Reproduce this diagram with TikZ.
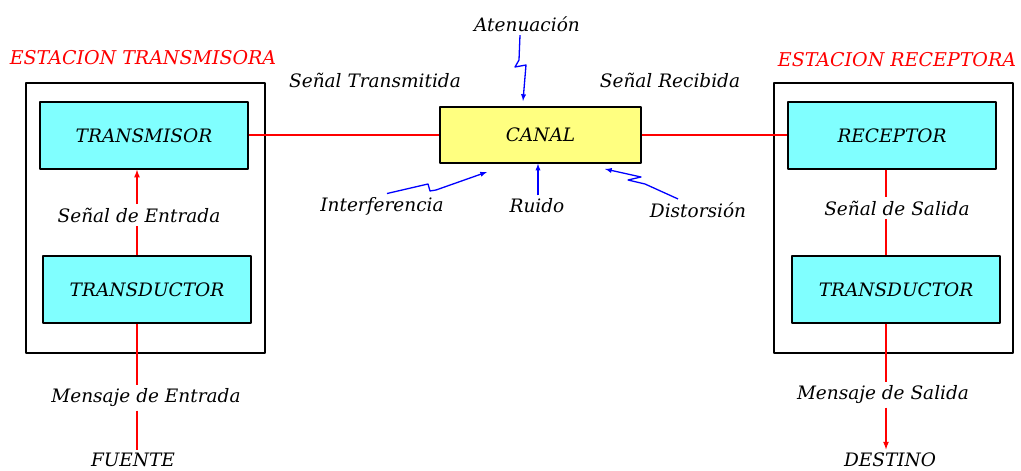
\documentclass[tikz,border=0pt]{standalone}
\usepackage{fontspec}
\setmainfont{DejaVu Serif}
\usetikzlibrary{arrows}
\definecolor{celeste}{RGB}{128,255,255}
\definecolor{amarillo}{RGB}{255,255,128}
\tikzset{t/.style={font=\fontsize{18.5}{18.5}\selectfont\itshape}}
\tikzset{blk/.style={draw,line width=1.4pt,fill=celeste,minimum width=208pt,minimum height=67pt,t}}
\tikzset{est/.style={draw,line width=1.6pt,minimum width=239pt,minimum height=270pt}}
\tikzset{sig/.style={red,line width=1.6pt}}
\tikzset{zz/.style={blue,line width=1.3pt,-latex}}

\begin{document}
\begin{tikzpicture}[x=1pt,y=-1pt,line join=round]
  \useasboundingbox (0,0) rectangle (1021,471);
  % estaciones
  \node[est] (ET) at (145.5,218) {};
  \node[est] (ER) at (893.5,218) {};
  \node[t,red,font=\fontsize{19}{19}\selectfont\itshape] at (143,58) {ESTACION TRANSMISORA};
  \node[t,red,font=\fontsize{19}{19}\selectfont\itshape] at (897,60) {ESTACION RECEPTORA};
  % bloques
  \node[blk] (TX) at (144,135.5) {TRANSMISOR};
  \node[blk] (TD1) at (147,289.5) {TRANSDUCTOR};
  \node[blk,fill=amarillo,minimum width=201pt,minimum height=56pt] (CA) at (540.5,135) {CANAL};
  \node[blk] (RX) at (892,135.5) {RECEPTOR};
  \node[blk] (TD2) at (896,289.5) {TRANSDUCTOR};
  \coordinate (la) at (137,0);
  \coordinate (lb) at (886,0);
  \coordinate (lc) at (0,135);
  % lado transmisor
  \node[t] (SE) at (139,215) {Señal de Entrada};
  \draw[sig] (TD1.north -| la) -- (SE.south -| la);
  \draw[sig,-latex] (SE.north -| la) -- (TX.south -| la);
  \node[t] (ME) at (146,398) {Mensaje de Entrada};
  \draw[sig] (TD1.south -| la) -- (ME.north -| la);
  \node[t] (FU) at (133,460) {FUENTE};
  \draw[sig] (ME.south -| la) -- (FU.north -| la);
  % canal
  \node[t] (ST) at (375,80) {Señal Transmitida};
  \node[t] (SR) at (670,80) {Señal Recibida};
  \draw[sig] (TX.east |- lc) -- (CA.west |- lc);
  \draw[sig] (CA.east |- lc) -- (RX.west |- lc);
  \node[t] (AT) at (527,24) {Atenuación};
  \draw[zz] (AT.south -| 520,0) -- (519,60) -- (515,67) -- (526,65) -- (523,101);
  \node[t] (IN) at (382,206) {Interferencia};
  \draw[zz] (IN.north -| 387,0) -- (428,184) -- (430,191) -- (436,190) -- (487,172);
  \node[t] (RU) at (537,206) {Ruido};
  \draw[zz] (RU.north -| 538,0) -- (CA.south -| 538,0);
  \node[t] (DI) at (698,210) {Distorsión};
  \draw[zz] (DI.north -| 678,0) -- (645,184) -- (628,180) -- (641,177) -- (605,169);
  % lado receptor
  \node[t] (SS) at (897,208) {Señal de Salida};
  \draw[sig] (RX.south -| lb) -- (SS.north -| lb);
  \draw[sig] (SS.south -| lb) -- (TD2.north -| lb);
  \node[t] (MS) at (883,395) {Mensaje de Salida};
  \draw[sig] (TD2.south -| lb) -- (MS.north -| lb);
  \node[t] (DE) at (890,460) {DESTINO};
  \draw[sig,-latex] (MS.south -| lb) -- (DE.north -| lb);
\end{tikzpicture}
\end{document}
